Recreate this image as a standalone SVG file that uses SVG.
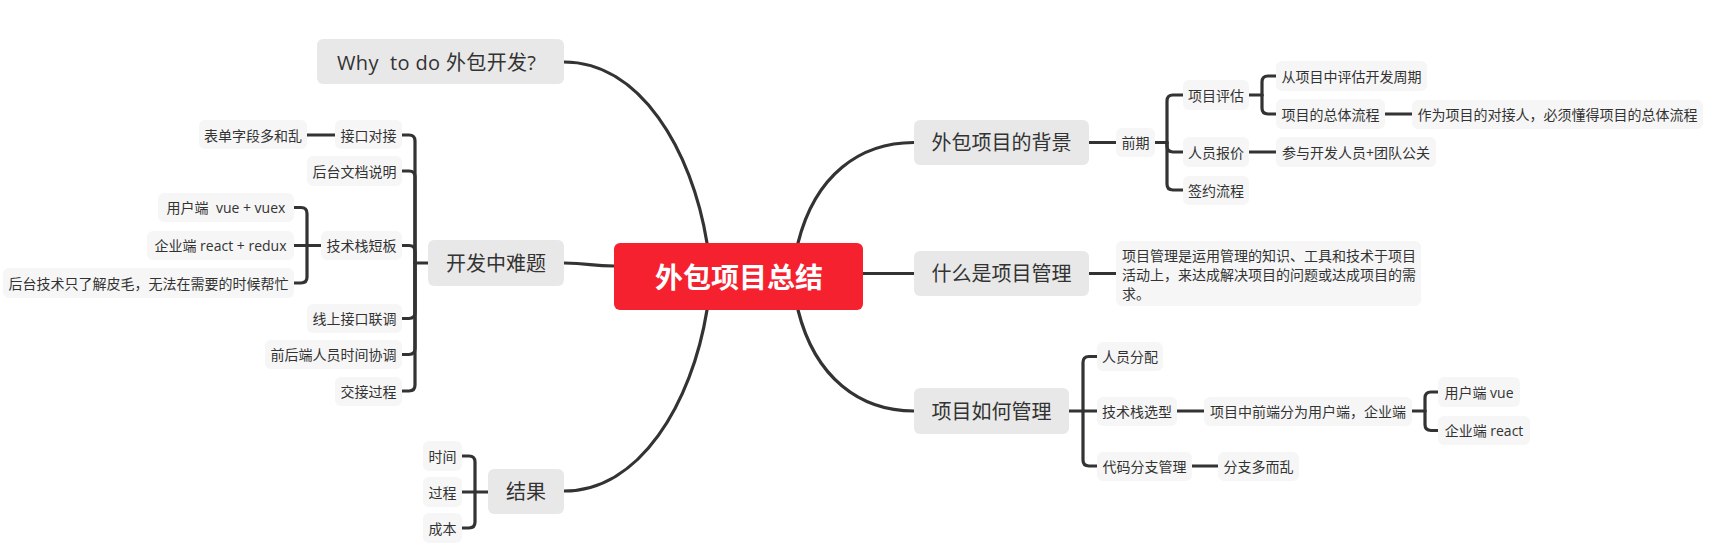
<svg xmlns="http://www.w3.org/2000/svg" width="1723" height="545" viewBox="0 0 1723 545">
<style>
text{font-family:"Open Sans","Noto Sans CJK SC",sans-serif;fill:#333;dominant-baseline:central}
.m rect{fill:#e8e8e8}
.m text{font-size:20px;text-anchor:middle}
.s rect{fill:#f6f6f6}
.s text{font-size:14px;text-anchor:middle}
.c path{fill:none;stroke:#333;stroke-width:3.2;stroke-linecap:round}
</style>
<rect width="1723" height="545" fill="#fff"/>
<g id="connectors" class="c">
<path d="M564,62 C640,62 692,150 707,243"/>
<path d="M564,491 C640,491 692,403 707,310"/>
<path d="M564,263 C590,263 590,266 614,266"/>
<path d="M798,243 C815,175 860,142.5 914,142.5"/>
<path d="M863,273.5 H914"/>
<path d="M798,310 C815,378 860,411 914,411"/>
<path d="M402,135 H409 Q415,135 415,141 V263"/>
<path d="M402,171 H409 Q415,171 415,177 V263"/>
<path d="M402,245.5 H409 Q415,245.5 415,251.5 V263"/>
<path d="M402,318.5 H409 Q415,318.5 415,312.5 V263"/>
<path d="M402,354.5 H409 Q415,354.5 415,348.5 V263"/>
<path d="M402,391 H409 Q415,391 415,385 V263"/>
<path d="M415,263 H428"/>
<path d="M307,135 H335"/>
<path d="M294,207.5 H301 Q307,207.5 307,213.5 V245.5"/>
<path d="M294,245.5 H321"/>
<path d="M294,283 H301 Q307,283 307,277 V245.5"/>
<path d="M462,456 H469 Q475,456 475,462 V491.5"/>
<path d="M462,492 H488"/>
<path d="M462,528 H469 Q475,528 475,522 V491.5"/>
<path d="M1089,142.5 H1116"/>
<path d="M1155,142.5 H1167"/>
<path d="M1167,142.5 V101 Q1167,95 1173,95 H1183"/>
<path d="M1167,142.5 V146 Q1167,152 1173,152 H1183"/>
<path d="M1167,142.5 V184 Q1167,190 1173,190 H1183"/>
<path d="M1249,95 H1262"/>
<path d="M1262,95 V82 Q1262,76 1268,76 H1276"/>
<path d="M1262,95 V108 Q1262,114 1268,114 H1276"/>
<path d="M1385,114 H1412"/>
<path d="M1249,152 H1276"/>
<path d="M1089,273.5 H1116"/>
<path d="M1069,411 H1097"/>
<path d="M1083,411 V362.5 Q1083,356.5 1089,356.5 H1097"/>
<path d="M1083,411 V460 Q1083,466 1089,466 H1097"/>
<path d="M1177,411 H1204"/>
<path d="M1192,466 H1218"/>
<path d="M1412,411 H1425"/>
<path d="M1425,411 V398 Q1425,392 1431,392 H1438"/>
<path d="M1425,411 V424.5 Q1425,430.5 1431,430.5 H1438"/>
</g>
<g id="root">
<rect x="614" y="243" width="249" height="67" rx="6" fill="#f5212e"/>
<text x="739" y="276" style="font-family:'Noto Sans CJK SC',sans-serif;font-size:28px;font-weight:bold;fill:#fff;text-anchor:middle">外包项目总结</text>
</g>
<g id="why" class="m"><rect x="317" y="39" width="247" height="45" rx="6"/><text x="337" y="62" style="text-anchor:start" textLength="199" xml:space="preserve">Why  to do 外包开发?</text></g>
<g id="dev" class="m"><rect x="428" y="240" width="136" height="46" rx="6"/><text x="496" y="263">开发中难题</text></g>
<g id="result" class="m"><rect x="488" y="469" width="76" height="45" rx="6"/><text x="526" y="491.5">结果</text></g>
<g id="bg" class="m"><rect x="914" y="120" width="175" height="45" rx="6"/><text x="1001.5" y="142.5">外包项目的背景</text></g>
<g id="pm" class="m"><rect x="914" y="251" width="175" height="45" rx="6"/><text x="1001.5" y="273.5">什么是项目管理</text></g>
<g id="how" class="m"><rect x="914" y="388" width="155" height="46" rx="6"/><text x="991.5" y="411">项目如何管理</text></g>
<g id="jiekou" class="s"><rect x="335" y="120" width="67" height="29" rx="6"/><text x="368.5" y="135">接口对接</text></g>
<g id="biaodan" class="s"><rect x="199" y="120" width="108" height="29" rx="6"/><text x="253" y="135">表单字段多和乱</text></g>
<g id="houtai" class="s"><rect x="307" y="156" width="95" height="30" rx="6"/><text x="354.5" y="171">后台文档说明</text></g>
<g id="jishu" class="s"><rect x="321" y="231" width="81" height="29" rx="6"/><text x="361.5" y="245.5">技术栈短板</text></g>
<g id="user" class="s"><rect x="158" y="193" width="136" height="29" rx="6"/><text x="226" y="207.5" xml:space="preserve">用户端  vue + vuex</text></g>
<g id="ent" class="s"><rect x="147" y="231" width="147" height="29" rx="6"/><text x="220.5" y="245.5">企业端 react + redux</text></g>
<g id="backend" class="s"><rect x="3" y="268" width="291" height="30" rx="6"/><text x="148.5" y="283">后台技术只了解皮毛，无法在需要的时候帮忙</text></g>
<g id="xianshang" class="s"><rect x="307" y="304" width="95" height="29" rx="6"/><text x="354.5" y="318.5">线上接口联调</text></g>
<g id="qianhou" class="s"><rect x="265" y="340" width="137" height="29" rx="6"/><text x="333.5" y="354.5">前后端人员时间协调</text></g>
<g id="jiaojie" class="s"><rect x="335" y="377" width="67" height="29" rx="6"/><text x="368.5" y="391">交接过程</text></g>
<g id="shijian" class="s"><rect x="423" y="441" width="39" height="30" rx="6"/><text x="442.5" y="456">时间</text></g>
<g id="guocheng" class="s"><rect x="423" y="477" width="39" height="30" rx="6"/><text x="442.5" y="492">过程</text></g>
<g id="chengben" class="s"><rect x="423" y="513" width="39" height="30" rx="6"/><text x="442.5" y="528">成本</text></g>
<g id="qianqi" class="s"><rect x="1116" y="128" width="39" height="29" rx="6"/><text x="1135.5" y="142.5">前期</text></g>
<g id="pinggu" class="s"><rect x="1183" y="80" width="66" height="30" rx="6"/><text x="1216" y="95">项目评估</text></g>
<g id="zhouqi" class="s"><rect x="1276" y="61" width="151" height="30" rx="6"/><text x="1351.5" y="76">从项目中评估开发周期</text></g>
<g id="liucheng" class="s"><rect x="1276" y="99" width="109" height="30" rx="6"/><text x="1330.5" y="114">项目的总体流程</text></g>
<g id="duijie" class="s"><rect x="1412" y="100" width="291" height="29" rx="6"/><text x="1557.5" y="114">作为项目的对接人，必须懂得项目的总体流程</text></g>
<g id="baojia" class="s"><rect x="1183" y="137" width="66" height="30" rx="6"/><text x="1216" y="152">人员报价</text></g>
<g id="canyu" class="s"><rect x="1276" y="137" width="160" height="30" rx="6"/><text x="1356" y="152">参与开发人员+团队公关</text></g>
<g id="qianyue" class="s"><rect x="1183" y="176" width="66" height="29" rx="6"/><text x="1216" y="190.5">签约流程</text></g>
<g id="desc" class="s"><rect x="1116" y="241" width="305" height="65" rx="6"/>
<text x="1122" y="255" style="text-anchor:start">项目管理是运用管理的知识、工具和技术于项目</text>
<text x="1122" y="274" style="text-anchor:start">活动上，来达成解决项目的问题或达成项目的需</text>
<text x="1122" y="293" style="text-anchor:start">求。</text></g>
<g id="fenpei" class="s"><rect x="1097" y="342" width="66" height="29" rx="6"/><text x="1130" y="356.5">人员分配</text></g>
<g id="xuanxing" class="s"><rect x="1097" y="397" width="80" height="29" rx="6"/><text x="1137" y="411.5">技术栈选型</text></g>
<g id="fenzhi" class="s"><rect x="1097" y="452" width="95" height="29" rx="6"/><text x="1144.5" y="466.5">代码分支管理</text></g>
<g id="qianduan" class="s"><rect x="1204" y="397" width="208" height="29" rx="6"/><text x="1308" y="411.5">项目中前端分为用户端，企业端</text></g>
<g id="uservue" class="s"><rect x="1438" y="377" width="82" height="30" rx="6"/><text x="1479" y="392">用户端 vue</text></g>
<g id="entreact" class="s"><rect x="1438" y="416" width="92" height="29" rx="6"/><text x="1484" y="430.5">企业端 react</text></g>
<g id="luan" class="s"><rect x="1218" y="452" width="81" height="29" rx="6"/><text x="1258.5" y="466.5">分支多而乱</text></g>
</svg>
